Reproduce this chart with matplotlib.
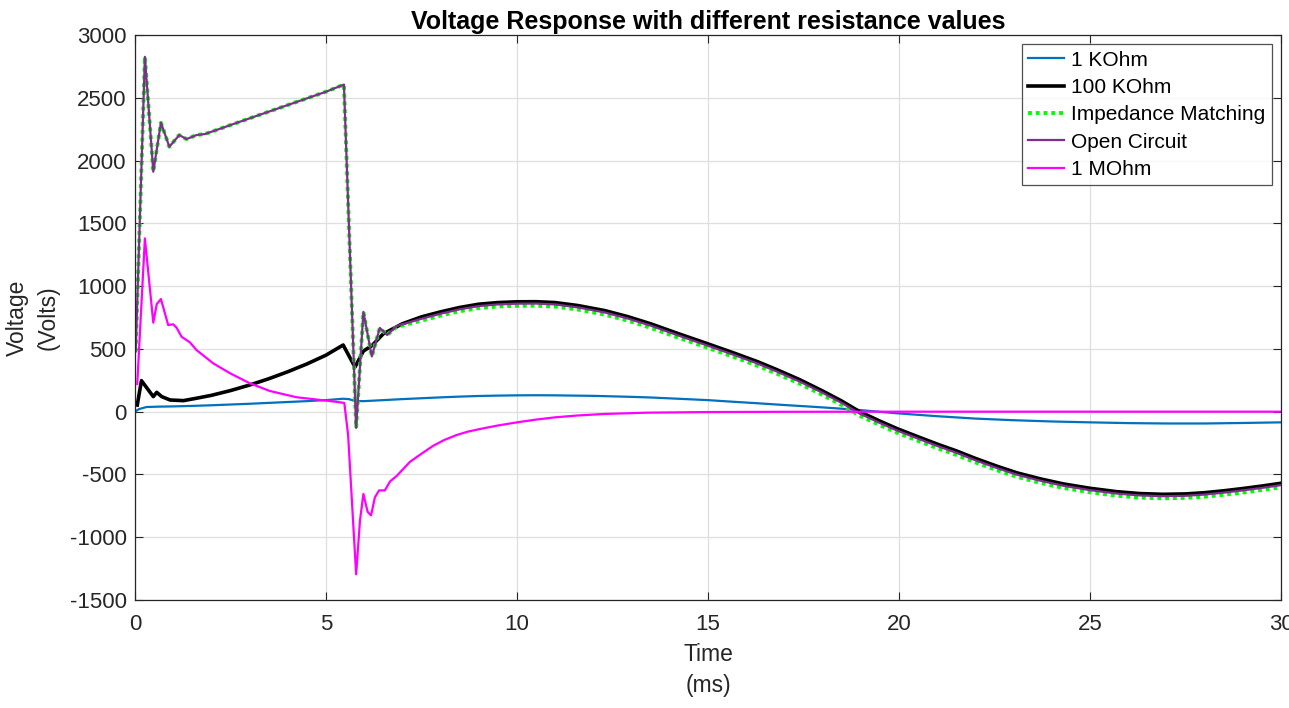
import matplotlib
matplotlib.use("Agg")
import matplotlib.pyplot as plt

# ---- data ----
t_1k = [0.0, 0.1, 0.3, 0.6, 1.0, 1.5, 2.0, 2.5, 3.0, 3.5, 4.0, 4.5, 5.0, 5.45, 5.6, 5.76, 6.0,
        6.5, 7.0, 7.5, 8.0, 8.5, 9.0, 9.5, 10.0, 10.5, 11.0, 11.5, 12.0, 12.5, 13.0, 13.5,
        14.0, 14.5, 15.0, 15.5, 16.3, 17.0, 17.7, 18.3, 18.97, 19.95, 21.0, 22.0, 23.0,
        24.0, 25.0, 26.0, 27.0, 28.0, 29.0, 30.0]
v_1k = [0, 20, 37, 40, 42, 46, 51, 57, 63, 70, 77, 84, 92, 103, 100, 85, 84,
        92, 100, 107, 114, 120, 125, 128, 130, 131, 130, 128, 126, 122, 118, 113,
        106, 99, 92, 82, 67, 53, 40, 28, 13, -13, -36, -55, -68,
        -78, -85, -91, -94, -94, -90, -85]

t_100k = [0.06, 0.17, 0.48, 0.57, 0.70, 0.92, 1.27, 1.61, 2.0, 2.5, 3.0, 3.5, 4.0, 4.5, 5.0,
          5.45, 5.76, 5.98, 6.2, 6.5, 7.0, 7.5, 8.0, 8.5, 9.0, 9.5, 10.0, 10.5, 11.0, 11.6,
          12.3, 12.9, 13.5, 14.2, 15.0, 15.7, 16.3, 16.8, 17.4, 18.0, 18.5, 18.97, 19.5,
          19.95, 20.5, 21.0, 21.5, 22.0, 22.6, 23.1, 23.7, 24.3, 25.0, 25.7, 26.3, 26.9,
          27.5, 28.0, 28.5, 29.0, 29.5, 30.0]
v_100k = [53, 247, 120, 154, 120, 93, 88, 107, 130, 168, 212, 262, 318, 380, 450,
          531, 355, 483, 525, 620, 700, 755, 795, 830, 856, 869, 875, 876, 869, 845,
          805, 757, 700, 624, 540, 465, 398, 335, 255, 165, 85, 0, -75,
          -135, -200, -258, -312, -372, -438, -488, -535, -575, -610, -637, -652, -658,
          -655, -645, -630, -612, -592, -570]

t_oc = [0.02, 0.26, 0.48, 0.68, 0.90, 1.16, 1.35, 1.61, 1.83, 2.0, 3.0, 4.0, 5.0, 5.47, 5.79,
        5.98, 6.20, 6.41, 6.60, 6.85, 7.5, 8.0, 8.5, 9.0, 9.5, 10.0, 10.5, 11.0, 11.6,
        12.3, 12.9, 13.5, 14.2, 15.0, 15.7, 16.3, 16.8, 17.4, 18.0, 18.5, 18.97, 19.5,
        19.95, 20.5, 21.0, 21.5, 22.0, 22.6, 23.1, 23.7, 24.3, 25.0, 25.7, 26.3, 26.9,
        27.5, 28.0, 28.5, 29.0, 29.5, 30.0]
v_oc = [480, 2826, 1911, 2301, 2110, 2203, 2171, 2203, 2211, 2229, 2336, 2442, 2548, 2605, -129,
        795, 440, 667, 611, 682, 740, 780, 815, 841, 854, 860, 861, 854, 830,
        790, 742, 685, 609, 525, 450, 383, 320, 240, 150, 70, -15, -90,
        -150, -215, -273, -327, -387, -453, -503, -550, -590, -625, -652, -667, -673,
        -670, -660, -645, -627, -607, -585]
v_im = [480, 2826, 1911, 2301, 2110, 2203, 2171, 2203, 2211, 2229, 2336, 2442, 2548, 2605, -129,
        795, 440, 667, 611, 675, 725, 765, 800, 825, 838, 843, 844, 837, 813,
        773, 725, 668, 592, 508, 433, 366, 303, 223, 133, 53, -32, -107,
        -167, -232, -290, -344, -404, -470, -520, -567, -607, -642, -669, -684, -690,
        -687, -677, -662, -644, -624, -602]

t_1m = [0.06, 0.26, 0.48, 0.57, 0.68, 0.87, 1.0, 1.09, 1.22, 1.44, 1.61, 2.05, 2.49, 3.01, 3.53,
        4.23, 5.1, 5.48, 5.58, 5.79, 5.89, 5.98, 6.09, 6.18, 6.28, 6.39, 6.54, 6.68, 6.85,
        7.2, 7.5, 7.81, 8.1, 8.42, 8.7, 9.03, 9.5, 10.0, 10.5, 11.0, 11.6, 12.3, 13.4, 15.0,
        17.0, 20.0, 30.0]
v_1m = [220, 1380, 709, 857, 897, 690, 696, 669, 597, 552, 491, 385, 306, 226, 165,
        115, 85, 70, -186, -1295, -868, -655, -797, -826, -683, -627, -627, -555, -512,
        -399, -335, -271, -225, -186, -160, -138, -110, -85, -63, -45, -30, -18, -8, -3,
        -1, 0, 0]

labels = ["1 KOhm", "100 KOhm", "Impedance Matching", "Open Circuit", "1 MOhm"]
xticks = [0, 5, 10, 15, 20, 25, 30]
yticks = [-1500, -1000, -500, 0, 500, 1000, 1500, 2000, 2500, 3000]

plt.rcParams['font.family'] = ['Liberation Sans', 'DejaVu Sans']
plt.rcParams['axes.unicode_minus'] = False
fig = plt.figure(figsize=(12.89, 7.08), dpi=100)
ax = fig.add_axes([0.1047, 0.1525, 0.8891, 0.7981])

ax.plot(t_1k, v_1k, color='#0072BD', lw=1.6, label=labels[0])
ax.plot(t_100k, v_100k, color='black', lw=2.6, label=labels[1])
ax.plot(t_oc, v_im, color='#00FF00', lw=2.8, linestyle=(0, (1, 1)), label=labels[2])
ax.plot(t_oc, v_oc, color='#7E2F8E', lw=1.6, label=labels[3])
ax.plot(t_1m, v_1m, color='#FF00FF', lw=1.6, label=labels[4])

ax.set_xlim(0, 30)
ax.set_ylim(-1500, 3000)
ax.set_xticks(xticks)
ax.set_yticks(yticks)
ax.grid(True, color='#DFDFDF', lw=0.9)
ax.set_axisbelow(True)
ax.tick_params(direction='in', top=True, right=True, labelsize=16, colors='#262626',
               length=6)
ax.tick_params(axis='x', pad=10)
ax.tick_params(axis='y', pad=6)
for s in ax.spines.values():
    s.set_color('#262626')
    s.set_linewidth(0.9)

ax.set_title("Voltage Response with different resistance values", fontsize=18,
             fontweight='bold', pad=4)
ax.set_xlabel("Time\n(ms)", fontsize=16.5, color='#262626', labelpad=6, linespacing=1.45)
ax.set_ylabel("Voltage\n(Volts)", fontsize=16.5, color='#262626', labelpad=7, linespacing=1.45)

leg = ax.legend(loc='upper right', fontsize=15, frameon=True, fancybox=False,
                edgecolor='#262626', handlelength=1.7, handletextpad=0.35,
                borderpad=0.3, labelspacing=0.4, borderaxespad=0.45)
leg.get_frame().set_linewidth(0.9)

fig.savefig("out.png", dpi=100)
